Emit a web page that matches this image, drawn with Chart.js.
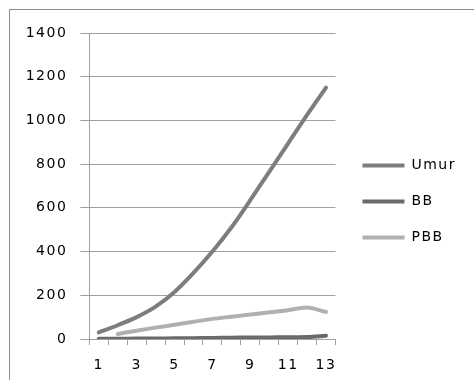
<!DOCTYPE html>
<html>
<head>
<meta charset="utf-8">
<script src="https://cdn.jsdelivr.net/npm/chart.js@4.4.1/dist/chart.umd.min.js"></script>
<style>
    html, body { margin: 0; padding: 0; background: #fff; overflow: hidden; }
    #frame {
        position: absolute; left: 9px; top: 9px;
        width: 520px; height: 420px;
        border: 1px solid #8c8c8c;
    }
    #wrap { position: absolute; left: 0; top: 0; width: 474px; height: 380px; }
</style>
</head>
<body>
<div id="frame"></div>
<div id="wrap"><canvas id="chart" width="474" height="380"></canvas></div>
<script>
// Chart data
const categories = ['1', '2', '3', '4', '5', '6', '7', '8', '9', '10', '11', '12', '13'];
const umurValues = [30, 63, 100, 148, 215, 302, 400, 510, 635, 765, 895, 1025, 1150];
const bbValues = [1, 1, 2, 2, 3, 4, 5, 6, 7, 7, 8, 9, 15];
const pbbValues = [null, 23, 38, 52, 65, 79, 92, 102, 112, 122, 132, 144, 124];
const yTicks = [0, 200, 400, 600, 800, 1000, 1200, 1400];

const gridColor = '#a0a0a0';
const fontFamily = '"DejaVu Sans", Verdana, sans-serif';

function lineSet(label, data, color) {
    return {
        label: label,
        data: data,
        borderColor: color,
        backgroundColor: color,
        borderWidth: 4,
        borderCapStyle: 'round',
        borderJoinStyle: 'round',
        pointRadius: 0,
        pointStyle: 'line',
        tension: 0.3,
        fill: false,
        spanGaps: false
    };
}

// wider text, like the old spreadsheet rendering
const spacingPlugin = {
    id: 'letterSpacing',
    afterInit: function (chart) { chart.ctx.letterSpacing = '1.5px'; },
    beforeUpdate: function (chart) { chart.ctx.letterSpacing = '1.5px'; },
    beforeDraw: function (chart) { chart.ctx.letterSpacing = '1.5px'; }
};

const ctx = document.getElementById('chart');

new Chart(ctx, {
    type: 'line',
    data: {
        labels: categories,
        datasets: [
            lineSet('Umur', umurValues, '#7d7d7d'),
            lineSet('BB', bbValues, '#6a6a6a'),
            lineSet('PBB', pbbValues, '#b0b0b0')
        ]
    },
    plugins: [spacingPlugin],
    options: {
        responsive: false,
        animation: false,
        layout: {
            padding: { top: 33, left: 14, right: 8, bottom: 10 }
        },
        plugins: {
            legend: {
                display: true,
                position: 'right',
                maxWidth: 160,
                labels: {
                    usePointStyle: true,
                    pointStyle: 'line',
                    pointStyleWidth: 42,
                    padding: 22,
                    color: '#000',
                    font: { family: fontFamily, size: 14 }
                }
            },
            tooltip: { enabled: false }
        },
        scales: {
            x: {
                type: 'category',
                offset: true,
                afterFit: function (axis) { axis.height = 31; },
                grid: {
                    offset: true,
                    drawOnChartArea: false,
                    tickLength: 6,
                    color: gridColor
                },
                border: { color: gridColor },
                ticks: {
                    autoSkip: false,
                    maxRotation: 0,
                    padding: 12,
                    color: '#000',
                    font: { family: fontFamily, size: 14 },
                    callback: function (value, index) {
                        return index % 2 === 0 ? categories[index] : '';
                    }
                }
            },
            y: {
                min: 0,
                max: 1400,
                afterBuildTicks: function (axis) {
                    axis.ticks = yTicks.map(v => ({ value: v }));
                },
                grid: {
                    tickLength: 9,
                    color: gridColor
                },
                border: { color: gridColor },
                ticks: {
                    padding: 13,
                    color: '#000',
                    font: { family: fontFamily, size: 14 },
                    callback: function (value) { return String(value); }
                }
            },
            gap: {
                type: 'linear',
                position: 'right',
                display: true,
                afterFit: function (axis) { axis.width = 5; },
                grid: { display: false },
                border: { display: false },
                ticks: { display: false }
            }
        }
    }
});
</script>
</body>
</html>
